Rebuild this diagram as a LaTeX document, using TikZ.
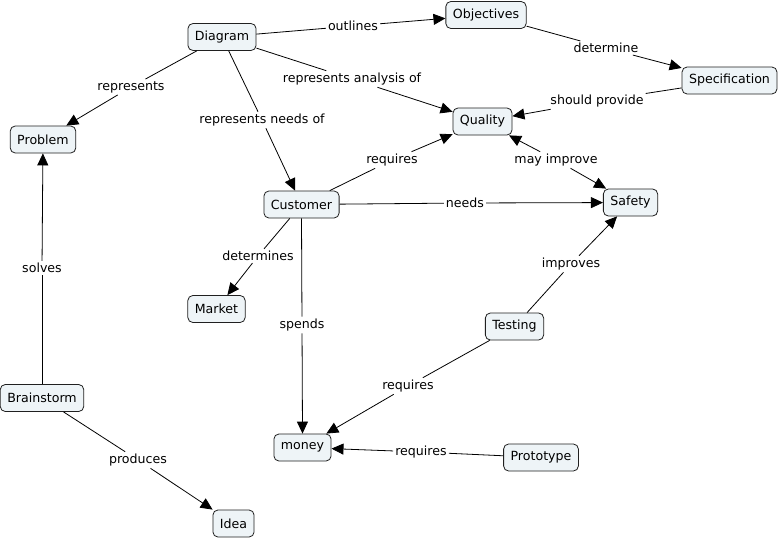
\documentclass[tikz,border=0pt]{standalone}
\usepackage{fontspec}
\setmainfont{DejaVu Sans}
\usetikzlibrary{arrows.meta}
\definecolor{boxfill}{HTML}{EEF4F7}
\definecolor{boxline}{HTML}{202020}
\begin{document}
\begin{tikzpicture}[x=1pt,y=-1pt,
  concept/.style={draw=boxline,fill=boxfill,rounded corners=5pt,line width=0.8pt,
    inner xsep=7pt,inner ysep=0pt,minimum height=27pt,font=\fontsize{12.6}{14}\selectfont},
  lbl/.style={inner sep=2pt,font=\fontsize{12.6}{14}\selectfont},
  link/.style={line width=0.8pt,black},
  arr/.style={link,-{Triangle[length=12pt,width=11pt]}}]
\useasboundingbox (0,0) rectangle (778,538);
% concepts
\node[concept] (diagram) at (222,37) {Diagram};
\node[concept] (objectives) at (486,15) {Objectives};
\node[concept] (spec) at (729.5,80.5) {Specification};
\node[concept] (quality) at (482.5,121.5) {Quality};
\node[concept] (problem) at (43,139.5) {Problem};
\node[concept] (customer) at (301.5,204.5) {Customer};
\node[concept] (safety) at (630.5,202.5) {Safety};
\node[concept] (market) at (216.5,309) {Market};
\node[concept] (testing) at (514.5,326.5) {Testing};
\node[concept] (brainstorm) at (42,398) {Brainstorm};
\node[concept] (money) at (302.5,447.5) {money};
\node[concept] (prototype) at (541,457.5) {Prototype};
\node[concept] (idea) at (233.5,523.5) {Idea};
% labels
\node[lbl] (l1) at (353,26) {outlines};
\node[lbl] (l2) at (606,48) {determine};
\node[lbl] (l3) at (131,87) {represents};
\node[lbl] (l4) at (352,79) {represents analysis of};
\node[lbl] (l5) at (597,101) {should provide};
\node[lbl] (l6) at (262,120) {represents needs of};
\node[lbl] (l7) at (392,160) {requires};
\node[lbl] (l8) at (556,160) {may improve};
\node[lbl] (l9) at (465,203) {needs};
\node[lbl] (l10) at (258,256) {determines};
\node[lbl] (l11) at (42,268) {solves};
\node[lbl] (l12) at (571,264) {improves};
\node[lbl] (l13) at (302,325) {spends};
\node[lbl] (l14) at (408,386) {requires};
\node[lbl] (l15) at (138,460) {produces};
\node[lbl] (l16) at (421,452) {requires};
% connectors
\draw[link] (diagram) -- (l1); \draw[arr] (l1) -- (objectives);
\draw[link] (objectives) -- (l2); \draw[arr] (l2) -- (spec);
\draw[link] (diagram) -- (l3); \draw[arr] (l3) -- (problem);
\draw[link] (diagram) -- (l4); \draw[arr] (l4) -- (quality);
\draw[link] (spec) -- (l5); \draw[arr] (l5) -- (quality);
\draw[link] (diagram) -- (l6); \draw[arr] (l6) -- (customer);
\draw[link] (customer) -- (l7); \draw[arr] (l7) -- (quality);
\draw[arr] (l8) -- (quality); \draw[arr] (l8) -- (safety);
\draw[link] (customer) -- (l9); \draw[arr] (l9) -- (safety);
\draw[link] (customer) -- (l10); \draw[arr] (l10) -- (market);
\draw[link] (brainstorm) -- (l11); \draw[arr] (l11) -- (problem);
\draw[link] (testing) -- (l12); \draw[arr] (l12) -- (safety);
\draw[link] (customer.south) -- (l13); \draw[arr] (l13) -- (money.north);
\draw[link] (testing) -- (l14); \draw[arr] (l14) -- (money);
\draw[link] (brainstorm) -- (l15); \draw[arr] (l15) -- (idea);
\draw[link] (prototype) -- (l16); \draw[arr] (l16) -- (money);
\end{tikzpicture}
\end{document}
